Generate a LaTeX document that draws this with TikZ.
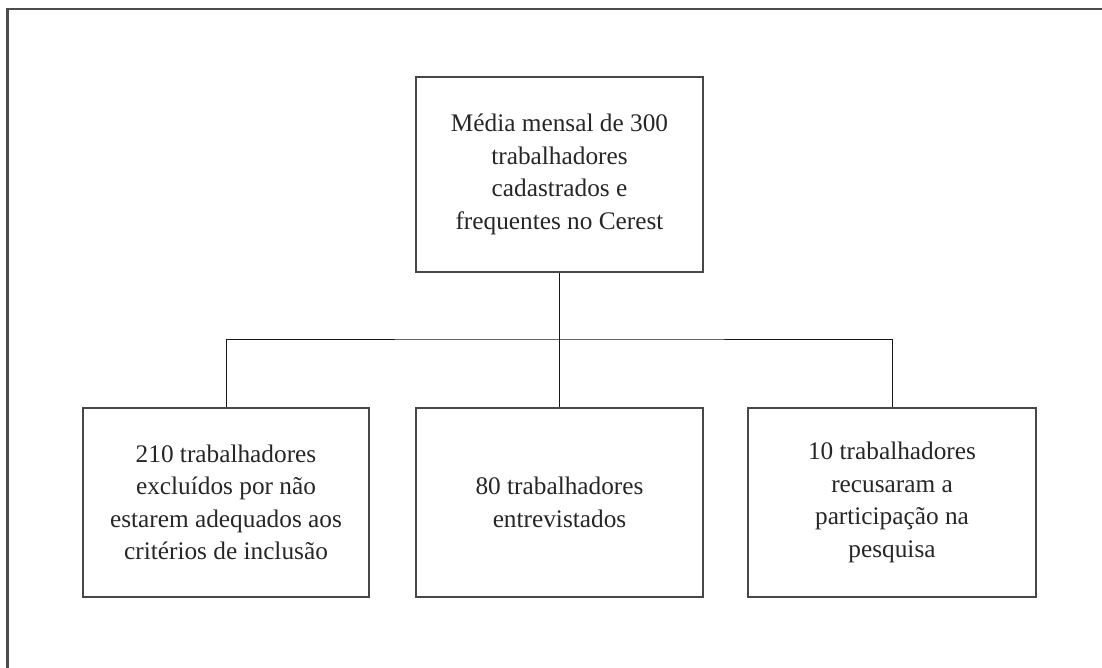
\documentclass[tikz,border=0pt]{standalone}
\usepackage{fontspec}
\setmainfont{Liberation Serif}
\begin{document}
\begin{tikzpicture}[x=1pt,y=-1pt,
  box/.style={draw=black!72, line width=1.3pt, inner sep=0pt, align=center,
    font=\fontsize{25.3}{32.5}\selectfont, text=black!85},
  conn/.style={draw=black!90, line width=1pt},
  frame/.style={draw=black!70, line width=2.2pt}]
\useasboundingbox (0,0) rectangle (1102,668);
\draw[frame] (7.5,680) -- (7.5,9) -- (1110,9);
\node[box, minimum width=287pt, minimum height=195pt] (top) at (559.5,174.5)
  {Média mensal de 300\\trabalhadores\\cadastrados e\\frequentes no Cerest};
\node[box, minimum width=286pt, minimum height=189pt] (left) at (226,502.5)
  {210 trabalhadores\\excluídos por não\\estarem adequados aos\\critérios de inclusão};
\node[box, minimum width=287pt, minimum height=189pt] (mid) at (559.5,502.5)
  {80 trabalhadores\\entrevistados};
\node[box, minimum width=288pt, minimum height=189pt] (right) at (892,502.5)
  {10 trabalhadores\\recusaram a\\participação na\\pesquisa};
\coordinate (j) at (559.5,339);
\draw[conn] (top.south) -- (j);
\draw[conn] (left.north) |- (j) -| (right.north);
\draw[conn] (j) -- (mid.north);
\end{tikzpicture}
\end{document}
